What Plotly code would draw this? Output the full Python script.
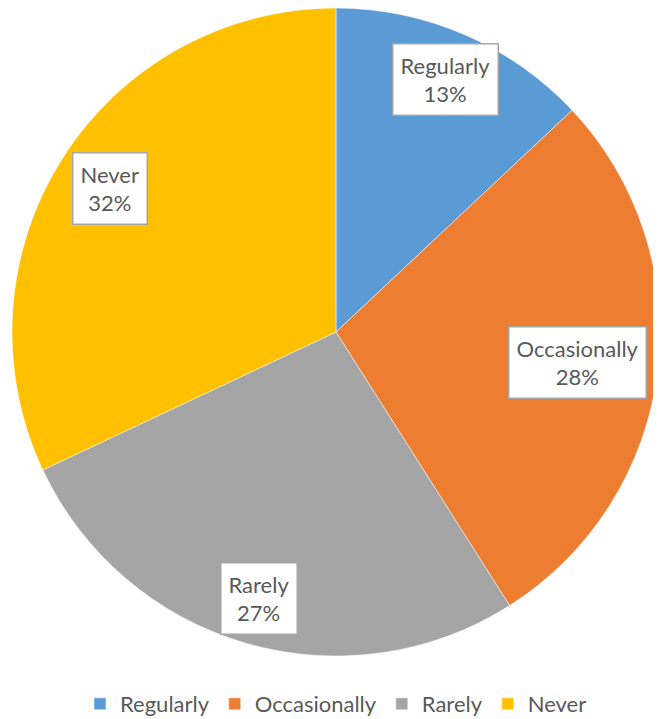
import math
import plotly.graph_objects as go

categories = ["Regularly", "Occasionally", "Rarely", "Never"]
values = [13, 28, 27, 32]
colors = ["#5B9BD5", "#ED7D31", "#A5A5A5", "#FFC000"]
label_radius = [0.85, 0.75, 0.855, 0.825]

W, H = 661, 719
OFF = 8                      # page body margin of the browser
cx, cy = 336 - OFF, 332 - OFF  # pie centre inside the plot div
R = 324

fig = go.Figure(go.Pie(
    labels=categories, values=values, sort=False, direction="clockwise", rotation=0,
    marker=dict(colors=colors, line=dict(color="white", width=0.5)),
    textinfo="none", hoverinfo="label+percent",
    domain=dict(x=[(cx - R) / W, (cx + R) / W],
                y=[max(0, 1 - (cy + R) / H), min(1, 1 - (cy - R) / H)]),
))

total = sum(values)
cum = 0
for cat, v, f in zip(categories, values, label_radius):
    mid = (cum + v / 2) / total * 2 * math.pi
    cum += v
    px = cx + f * R * math.sin(mid)
    py = cy - f * R * math.cos(mid)
    fig.add_annotation(
        x=px / W, y=1 - py / H, xref="paper", yref="paper",
        xanchor="center", yanchor="middle",
        text=f"{cat}<br>{round(v / total * 100)}%", showarrow=False,
        font=dict(family="Lato, Open Sans, sans-serif", size=22, color="#595959"),
        bgcolor="white", bordercolor="#A6A6A6", borderwidth=1.5, borderpad=7,
        align="center",
    )

fig.update_layout(
    width=W, height=H, margin=dict(l=0, r=0, t=0, b=0, autoexpand=False),
    paper_bgcolor="white", plot_bgcolor="white",
    showlegend=True,
    legend=dict(orientation="h", x=(336 - OFF) / W, xanchor="center",
                y=1 - (704 - OFF) / H, yanchor="middle",
                font=dict(family="Lato, Open Sans, sans-serif", size=22, color="#595959"),
                itemwidth=30, traceorder="normal"),
)

fig.write_html("out.html")
